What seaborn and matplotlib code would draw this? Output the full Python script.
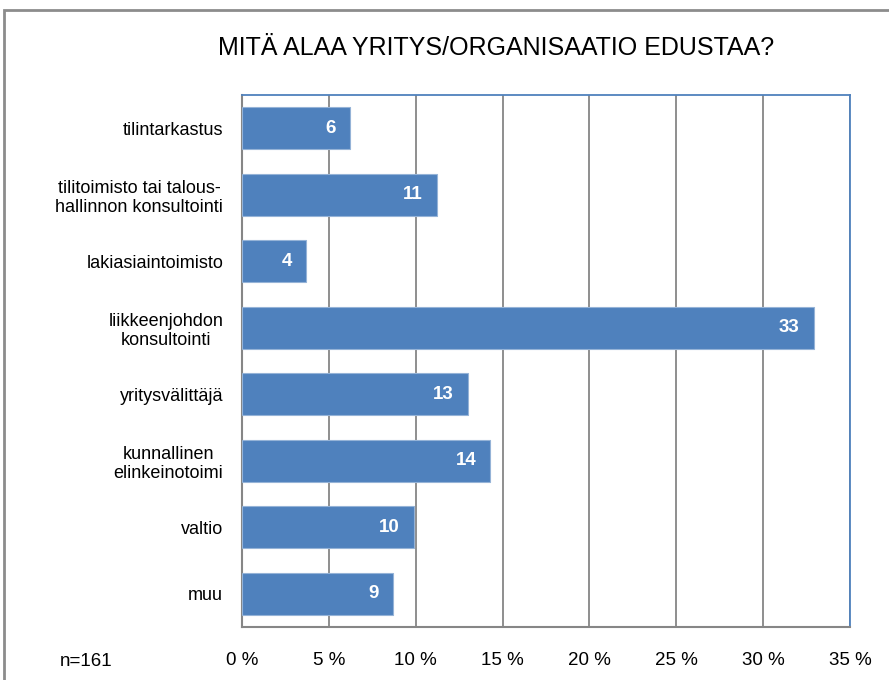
import matplotlib
matplotlib.use('Agg')
import matplotlib.pyplot as plt
import seaborn as sns
from matplotlib.patches import Rectangle

# Shares of respondents (%), n=161
categories = ['tilintarkastus',
              'tilitoimisto tai talous-\nhallinnon konsultointi',
              'lakiasiaintoimisto',
              'liikkeenjohdon\nkonsultointi',
              'yritysvälittäjä',
              'kunnallinen\nelinkeinotoimi',
              'valtio',
              'muu']
values = [6.2, 11.2, 3.7, 32.9, 13.0, 14.3, 9.9, 8.7]
x_ticks = [0, 5, 10, 15, 20, 25, 30, 35]
x_tick_labels = ['0 %', '5 %', '10 %', '15 %', '20 %', '25 %', '30 %', '35 %']

sns.set_style('white')
plt.rcParams['font.family'] = ['Liberation Sans', 'DejaVu Sans']
plt.rcParams['text.color'] = 'black'
plt.rcParams['xtick.labelcolor'] = 'black'
plt.rcParams['ytick.labelcolor'] = 'black'

fig = plt.figure(figsize=(8.89, 6.80), dpi=100)
ax = fig.add_axes([242/889, 1 - 627/680, 608/889, 532/680])

sns.barplot(x=values, y=categories, orient='h', color='#4F81BD',
            width=0.63, edgecolor='#95B3D7', linewidth=0.8, ax=ax,
            saturation=1, zorder=3)

labels = ax.bar_label(ax.containers[0], labels=[f'{v:.0f}' for v in values],
                      padding=-10, color='white', fontweight='bold', fontsize=13.5,
                      label_type='edge')
for t in labels:
    t.set_horizontalalignment('right')

ax.set_xlim(0, 35)
ax.set_ylim(7.5, -0.5)
ax.set_xticks(x_ticks)
ax.set_xticklabels(x_tick_labels, fontsize=13.5, color='black')
ax.set_yticks(range(len(categories)))
ax.set_yticklabels(categories, fontsize=13, multialignment='center', color='black')
ax.set_yticks([i - 0.5 for i in range(len(categories) + 1)], minor=True)
ax.tick_params(axis='y', which='major', length=0, pad=13.5)
ax.tick_params(axis='y', which='minor', length=5, width=1.2, color='#868686', direction='out')
ax.tick_params(axis='x', length=5, width=1.2, color='#868686', direction='out', pad=13)
ax.set_xlabel('')
ax.set_ylabel('')

ax.xaxis.grid(True, color='#868686', linewidth=1.3, zorder=0)
ax.set_axisbelow(True)
for side in ['left', 'bottom']:
    ax.spines[side].set_color('#868686')
    ax.spines[side].set_linewidth(1.5)
for side in ['top', 'right']:
    ax.spines[side].set_visible(True)
    ax.spines[side].set_color('#4F81BD')
    ax.spines[side].set_linewidth(1.3)

fig.text(496/889, 1 - 48/680, 'MITÄ ALAA YRITYS/ORGANISAATIO EDUSTAA?',
         ha='center', va='center', fontsize=18, color='black')
fig.text(60/889, 1 - 662/680, 'n=161', ha='left', va='center', fontsize=13.5,
         color='black')

# outer chart frame
fig.patches.append(Rectangle((4/889, -0.05), 1.1, 1 - 10/680 + 0.05,
                             transform=fig.transFigure, fill=False,
                             edgecolor='#8C8C8C', linewidth=2))

fig.savefig('out.png', dpi=100)
